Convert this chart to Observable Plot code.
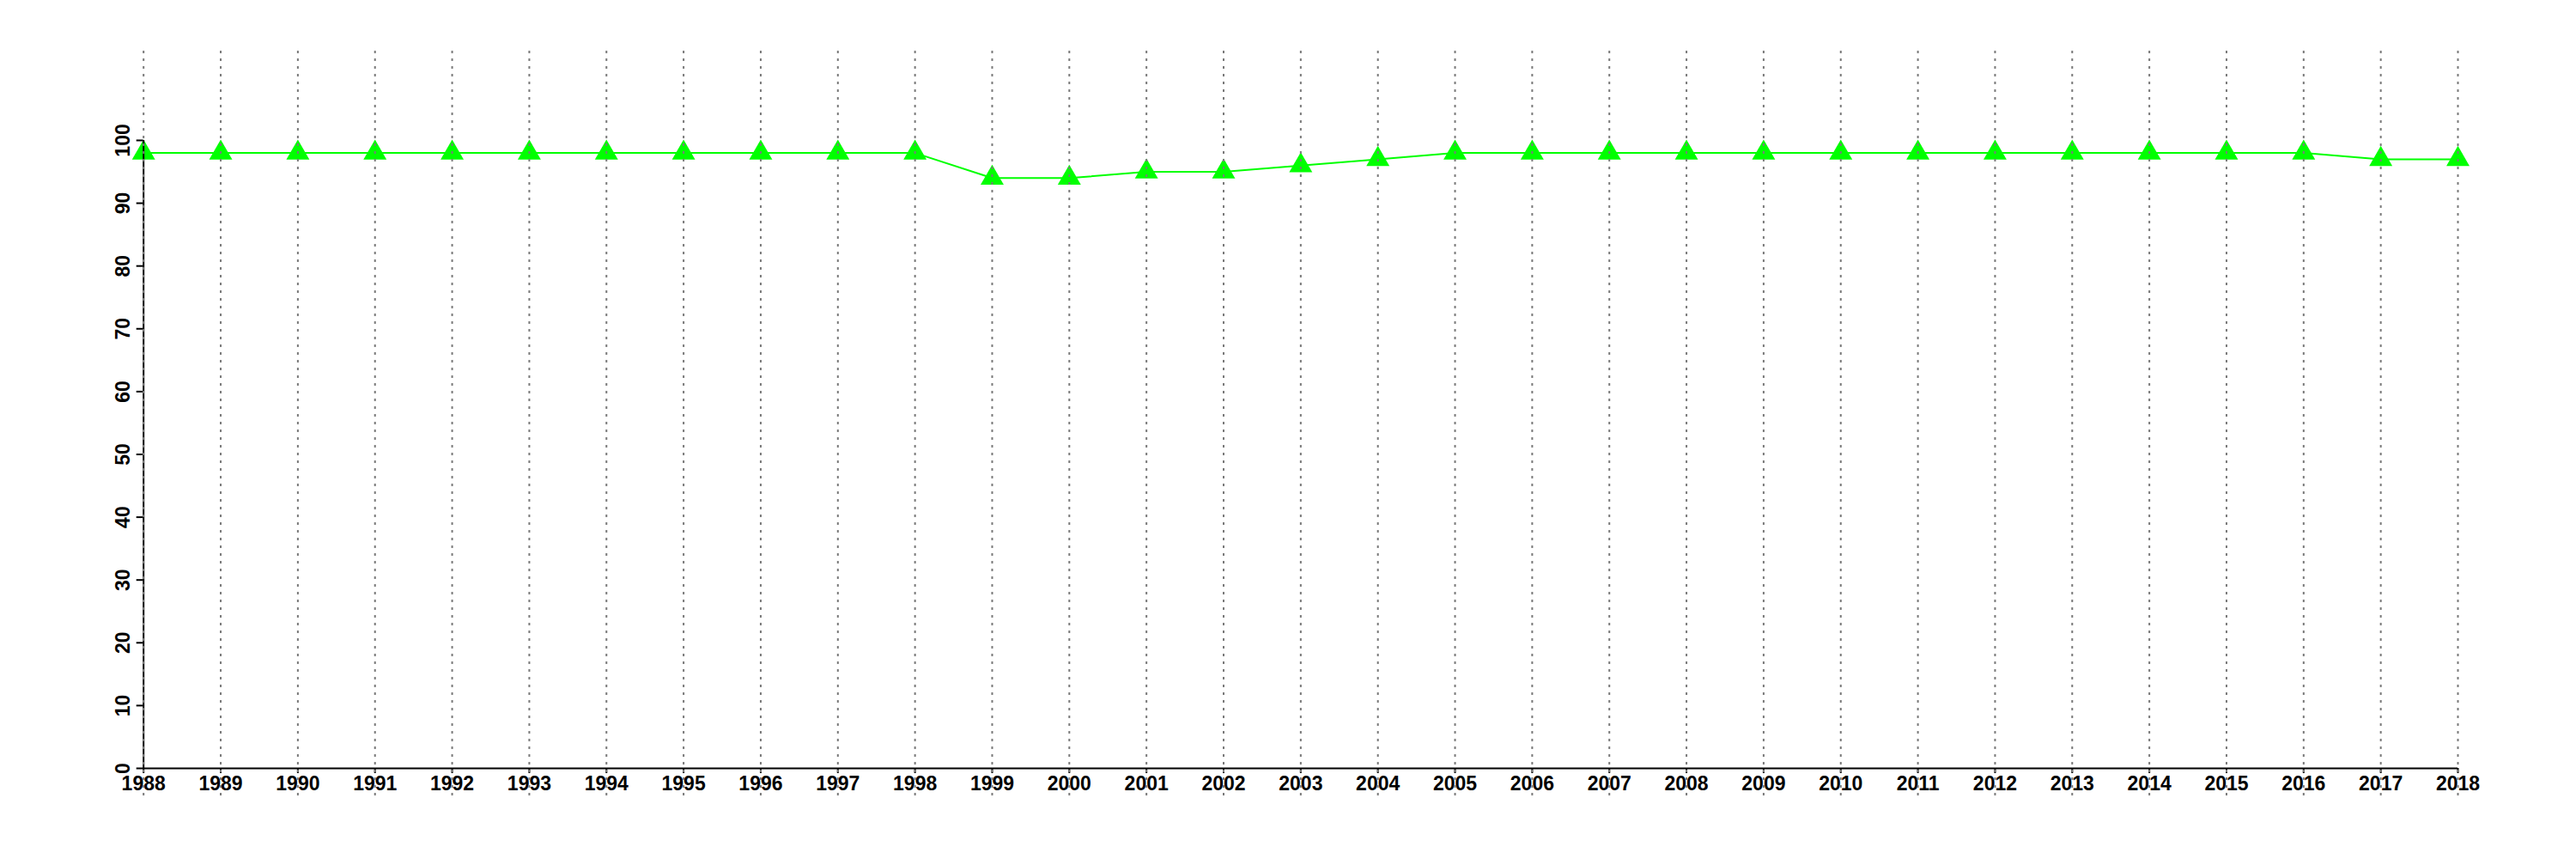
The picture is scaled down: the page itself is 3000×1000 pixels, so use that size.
<!DOCTYPE html>
<html>
<head>
<meta charset="utf-8">
<script src="https://cdn.jsdelivr.net/npm/d3@7"></script>
<script src="https://cdn.jsdelivr.net/npm/@observablehq/plot@0.6"></script>
<style>
  html, body { margin: 0; padding: 0; background: #fff; }
  #chart svg { display: block; }
</style>
</head>
<body>
<div id="chart"></div>
<script>
const years = [1988, 1989, 1990, 1991, 1992, 1993, 1994, 1995, 1996, 1997, 1998,
  1999, 2000, 2001, 2002, 2003, 2004, 2005, 2006, 2007, 2008, 2009, 2010,
  2011, 2012, 2013, 2014, 2015, 2016, 2017, 2018];
const values = [98, 98, 98, 98, 98, 98, 98, 98, 98, 98, 98,
  94, 94, 95, 95, 96, 97, 98, 98, 98, 98, 98, 98,
  98, 98, 98, 98, 98, 98, 97, 97];
const yTicks = [0, 10, 20, 30, 40, 50, 60, 70, 80, 90, 100];

const data = years.map((year, i) => ({year, value: values[i]}));

const font = "'Liberation Sans', Arial, Helvetica, sans-serif";

const chart = Plot.plot({
  width: 3000,
  height: 1000,
  marginLeft: 166.7,
  marginRight: 138,
  marginTop: 59,
  marginBottom: 73,
  style: {background: "#fff", fontFamily: font},
  x: {domain: [1988, 2018], axis: null, label: null},
  y: {domain: [-4.514, 114.22], axis: null, label: null},
  marks: [
    Plot.line(data, {x: "year", y: "value", stroke: "#00ff00", strokeWidth: 2}),
    Plot.dot(data, {x: "year", y: "value", symbol: "triangle", r: 10, fill: "#00ff00", stroke: "none"}),
    Plot.ruleX([1988], {y1: 0, y2: 100, stroke: "#000", strokeWidth: 2}),
    Plot.ruleY([0], {x1: 1988, x2: 2018, stroke: "#000", strokeWidth: 2}),
    Plot.axisY({ticks: yTicks, anchor: "left", label: null, tickSize: 8, tickFormat: () => "", stroke: "#000", strokeWidth: 2}),
    Plot.text(yTicks, {x: 1988, y: d => d, text: d => String(d), rotate: -90, textAnchor: "middle",
      lineAnchor: "middle", dx: -24, fontSize: 23, fontWeight: "bold", fill: "#000"}),
    Plot.axisX({ticks: years, anchor: "bottom", label: null, dy: -33, tickSize: 6, tickPadding: 3, tickFormat: d => String(d),
      fontSize: 23, fontWeight: "bold", fill: "#000", stroke: "#000", strokeWidth: 2}),
    Plot.ruleX(years, {stroke: "#7a7a7a", strokeWidth: 2, strokeDasharray: "3,6"})
  ]
});

document.getElementById("chart").appendChild(chart);
</script>
</body>
</html>
